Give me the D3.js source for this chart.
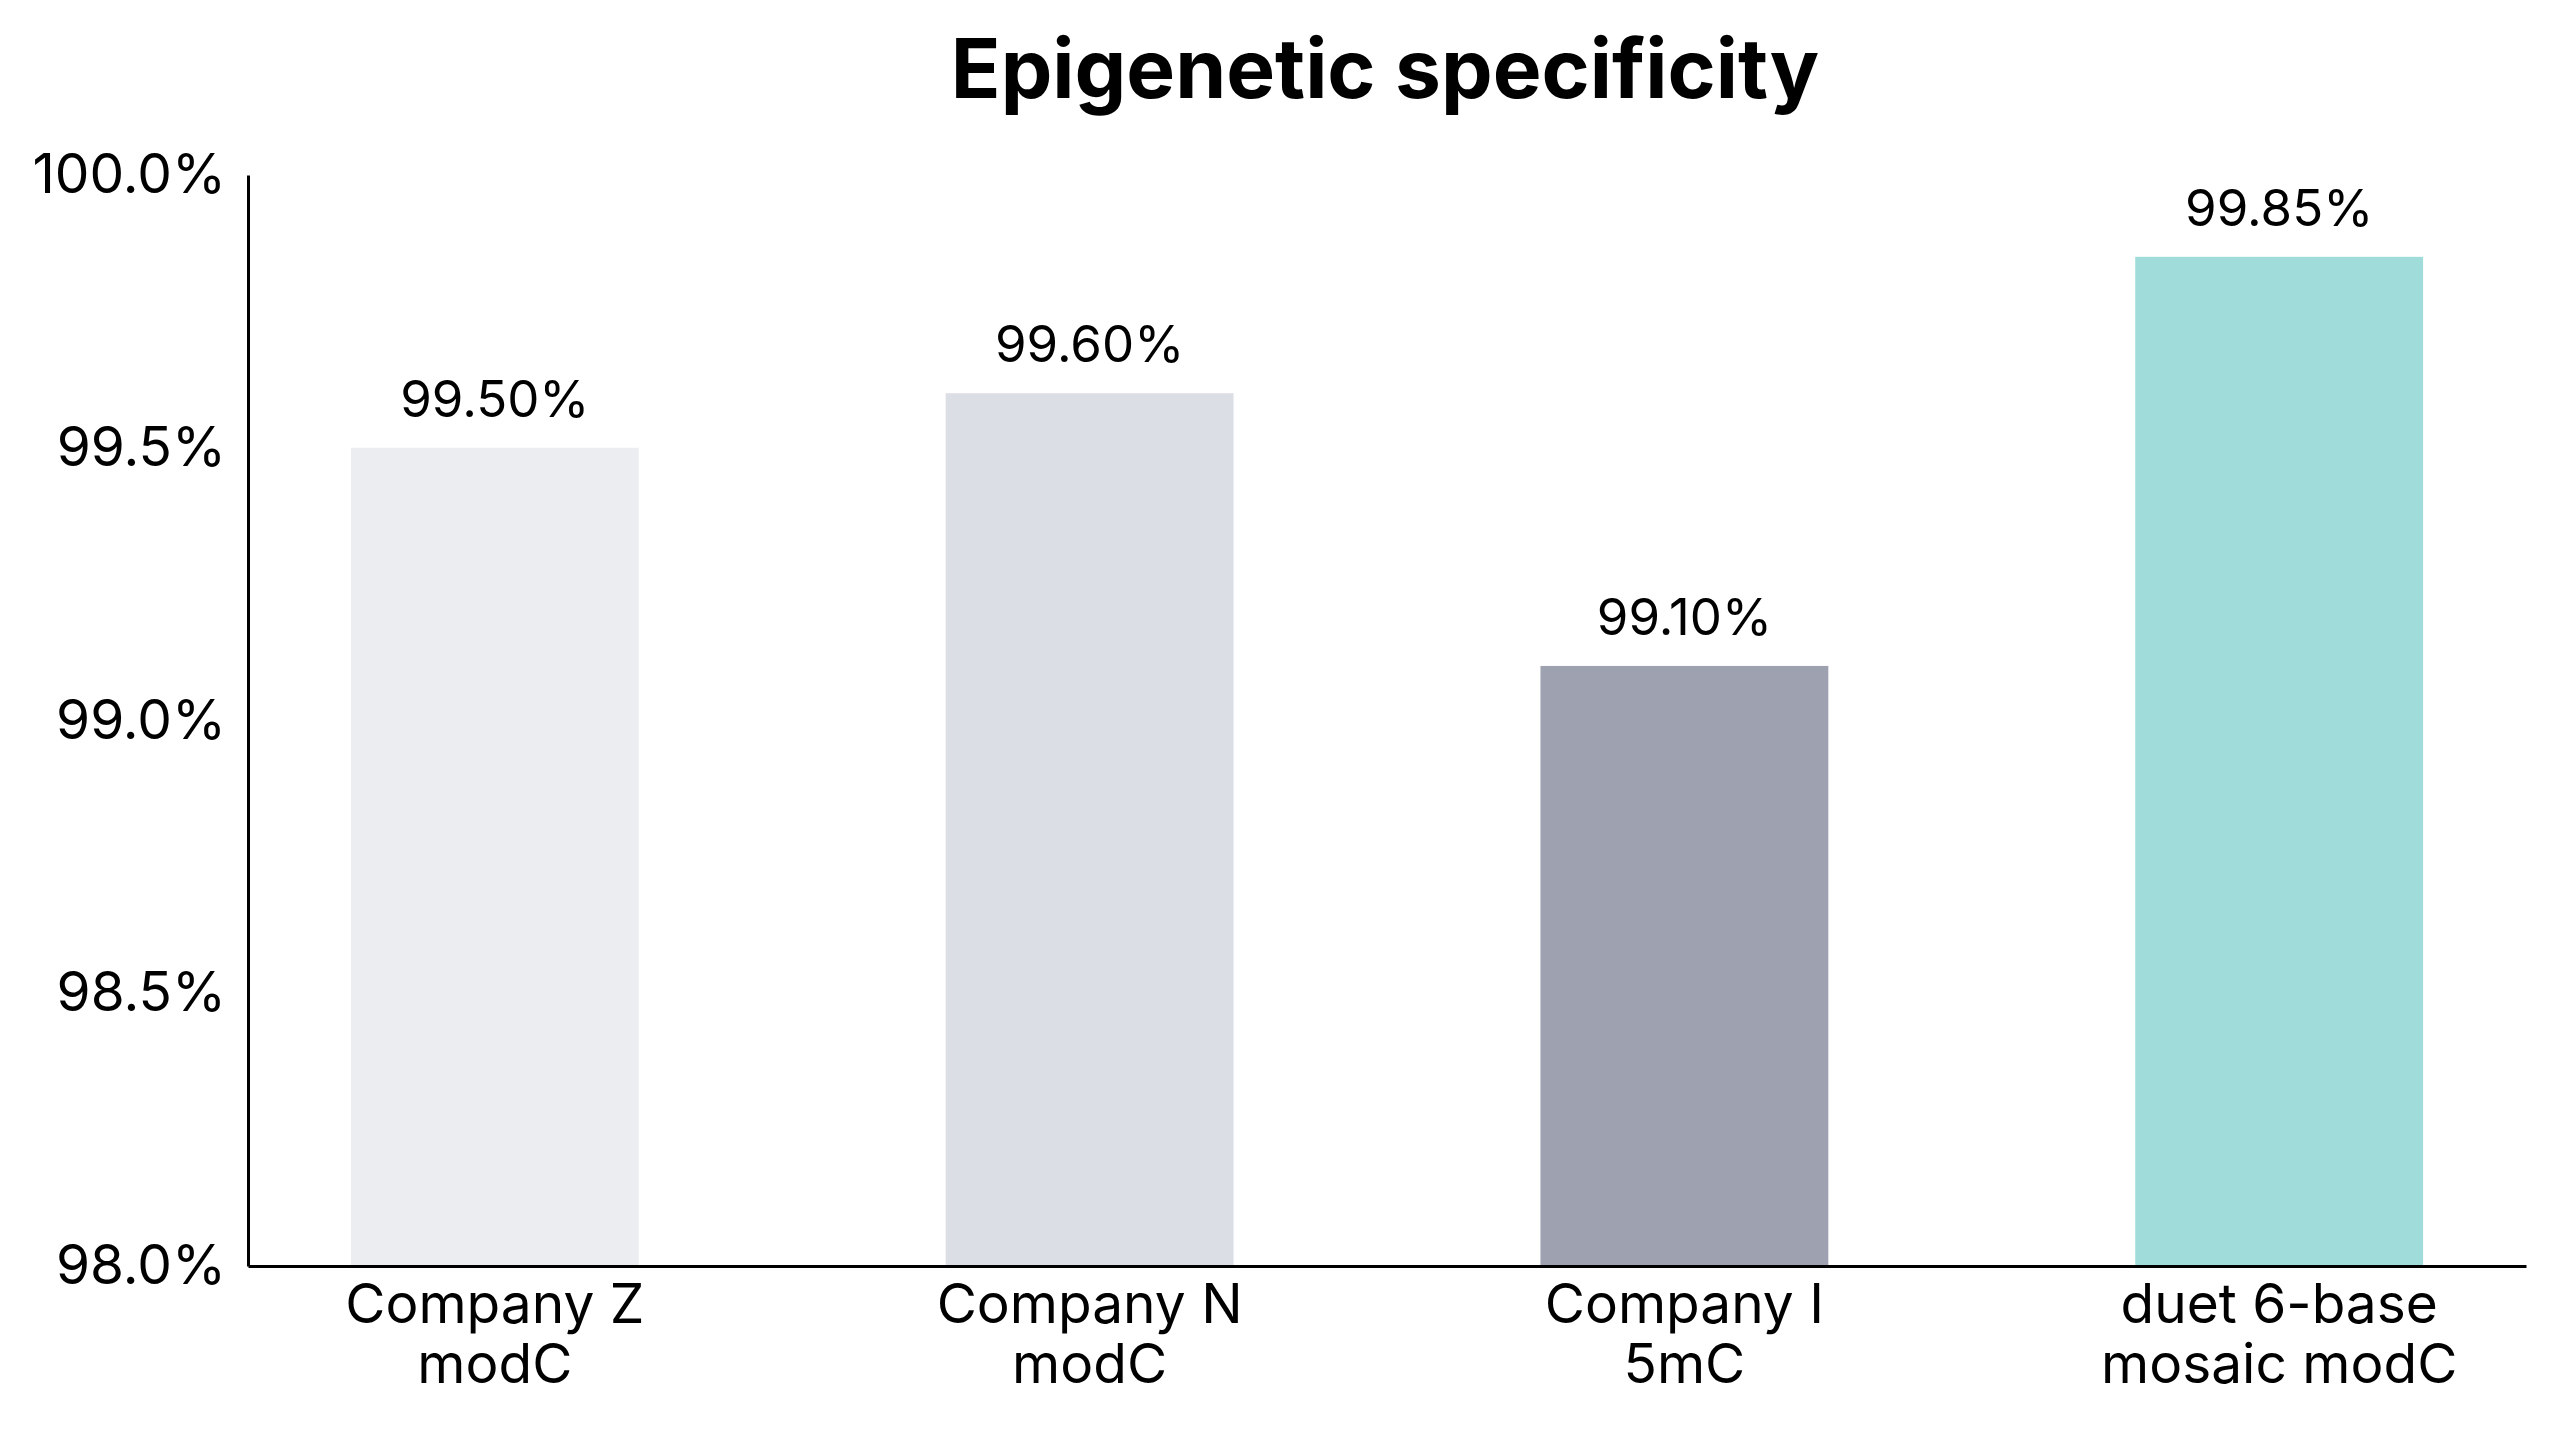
<!DOCTYPE html>
<html>
<head>
<meta charset="utf-8">
<script src="https://cdn.jsdelivr.net/npm/d3@7"></script>
<style>
  body { margin: 0; background: #fff; }
  text { font-family: Inter, "Noto Sans", sans-serif; fill: #000; }
</style>
</head>
<body>
<div id="vis"></div>
<script>

const FRAME_WIDTH = 2560;
const FRAME_HEIGHT = 1434;
const MARGINS = {left: 248, right: 34, top: 175, bottom: 168};

// data
const categories = ["Company Z\nmodC", "Company N\nmodC", "Company I\n5mC", "duet 6-base\nmosaic modC"];
const values = [99.50, 99.60, 99.10, 99.85];
const yTicks = [98.0, 98.5, 99.0, 99.5, 100.0];
const barColors = ["#ecedf1", "#dcdee6", "#9ea1af", "#9fdcda"];

const VIS_WIDTH = FRAME_WIDTH - MARGINS.left - MARGINS.right;
const VIS_HEIGHT = FRAME_HEIGHT - MARGINS.top - MARGINS.bottom;

const FRAME = d3.select("#vis")
                .append("svg")
                  .attr("width", FRAME_WIDTH)
                  .attr("height", FRAME_HEIGHT);

const X_SCALE = d3.scaleBand()
                  .domain(categories)
                  .range([MARGINS.left, MARGINS.left + VIS_WIDTH])
                  .paddingInner(0.516)
                  .paddingOuter(0.173);

const Y_SCALE = d3.scaleLinear()
                  .domain([98, 100])
                  .range([MARGINS.top + VIS_HEIGHT, MARGINS.top]);

const COLOR = d3.scaleOrdinal().domain(categories).range(barColors);

// title
FRAME.append("text")
      .attr("x", 1385)
      .attr("y", 98)
      .attr("text-anchor", "middle")
      .attr("font-size", "82px")
      .attr("font-weight", 700)
      .text("Epigenetic specificity");

// bars
FRAME.selectAll(".bar")
    .data(values)
    .enter()
    .append("rect")
      .attr("class", "bar")
      .attr("x", (d, i) => X_SCALE(categories[i]))
      .attr("y", (d) => Y_SCALE(d))
      .attr("width", X_SCALE.bandwidth())
      .attr("height", (d) => Y_SCALE(98) - Y_SCALE(d))
      .attr("fill", (d, i) => COLOR(categories[i]));

// value labels
FRAME.selectAll(".val")
    .data(values)
    .enter()
    .append("text")
      .attr("class", "val")
      .attr("x", (d, i) => X_SCALE(categories[i]) + X_SCALE.bandwidth() / 2)
      .attr("y", (d) => Y_SCALE(d) - 31)
      .attr("text-anchor", "middle")
      .attr("font-size", "51px")
      .text((d) => d.toFixed(2) + "%");

// y axis
const yAxis = FRAME.append("g")
      .attr("transform", "translate(" + MARGINS.left + ",0)")
      .call(d3.axisLeft(Y_SCALE)
              .tickValues(yTicks)
              .tickSize(0)
              .tickPadding(22)
              .tickFormat((d) => d.toFixed(1) + "%"));
yAxis.selectAll("text")
      .attr("font-size", "55px")
      .attr("font-family", "Inter, sans-serif")
      .attr("fill", "#000");
yAxis.select(".domain").attr("stroke", "#000").attr("stroke-width", 3);

// x axis
const xAxis = FRAME.append("g")
      .attr("transform", "translate(0," + (MARGINS.top + VIS_HEIGHT) + ")")
      .call(d3.axisBottom(X_SCALE).tickSize(0).tickSizeOuter(0));
xAxis.select(".domain").attr("stroke", "#000").attr("stroke-width", 3);
xAxis.selectAll("text")
      .attr("font-size", "55px")
      .attr("font-family", "Inter, sans-serif")
      .attr("fill", "#000")
      .attr("y", 0)
      .attr("dy", null)
      .each(function(d) {
        const t = d3.select(this);
        t.text(null);
        d.split("\n").forEach((line, k) => {
          t.append("tspan")
            .attr("x", 0)
            .attr("y", 57 + k * 60)
            .text(line);
        });
      });

</script>
</body>
</html>
